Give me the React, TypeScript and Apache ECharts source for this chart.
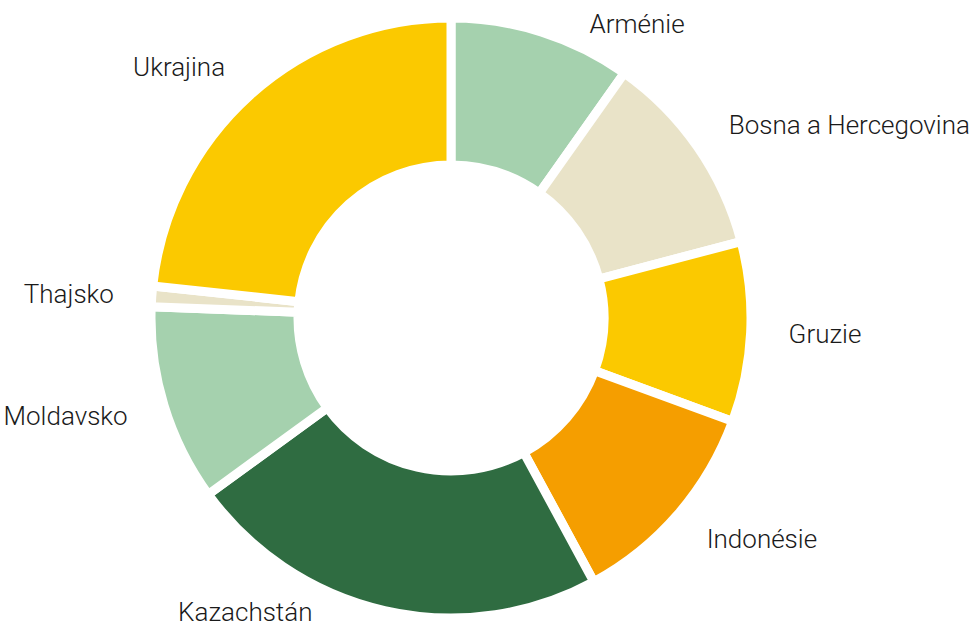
import React, { useEffect, useRef } from "react";
import * as echarts from "echarts";

const categories = ["Arménie", "Bosna a Hercegovina", "Gruzie", "Indonésie", "Kazachstán", "Moldavsko", "Thajsko", "Ukrajina"];
const values = [9.8, 11.1, 9.7, 11.5, 22.9, 10.6, 1.1, 23.3];
const colors = ["#a5d1ae", "#e9e3c8", "#fbc900", "#f59e00", "#2f6c41", "#a5d1ae", "#e9e3c8", "#fbc900"];

const CX = 451;
const CY = 318;
const LABEL_R = 338;
const LABEL_R_CLAMPED = 325;
const LABEL_TOP = 24;
const LABEL_BOTTOM = 612;

export default function App() {
  const ref = useRef<HTMLDivElement>(null);
  useEffect(() => {
    if (!ref.current) return;
    const chart = echarts.init(ref.current, null, { renderer: "svg" });
    const total = values.reduce((a, b) => a + b, 0);
    const mids: number[] = [];
    let cum = 0;
    values.forEach((v) => {
      mids.push(((cum + v / 2) / total) * Math.PI * 2);
      cum += v;
    });
    chart.setOption({
      animation: false,
      backgroundColor: "#ffffff",
      series: [
        {
          type: "pie",
          center: [CX, CY],
          radius: [153, 300],
          startAngle: 90,
          clockwise: true,
          avoidLabelOverlap: false,
          itemStyle: { borderColor: "#ffffff", borderWidth: 9 },
          label: {
            show: true,
            position: "outside",
            fontFamily: "'Roboto Light', Roboto, sans-serif",
            fontWeight: 300,
            fontSize: 26,
            color: "#1a1a1a",
            width: 320,
          },
          labelLine: { show: false, length: 32, length2: 0 },
          labelLayout: (p: any) => {
            const a = mids[p.dataIndex];
            const s = Math.sin(a);
            let y = CY - LABEL_R * Math.cos(a);
            let x = CX + LABEL_R * s;
            if (y < LABEL_TOP || y > LABEL_BOTTOM) {
              y = Math.min(LABEL_BOTTOM, Math.max(LABEL_TOP, y));
              const dy = y - CY;
              x = CX + Math.sign(s) * Math.sqrt(Math.max(0, LABEL_R_CLAMPED * LABEL_R_CLAMPED - dy * dy));
            }
            return { x, y, align: s >= 0 ? "left" : "right", verticalAlign: "middle" };
          },
          emphasis: { disabled: true },
          data: categories.map((name, i) => ({
            name,
            value: values[i],
            itemStyle: { color: colors[i] },
          })),
        },
      ],
    });
    return () => chart.dispose();
  }, []);
  return (
    <div
      ref={ref}
      style={{ position: "absolute", left: 0, top: 0, width: 979, height: 628 }}
    />
  );
}
